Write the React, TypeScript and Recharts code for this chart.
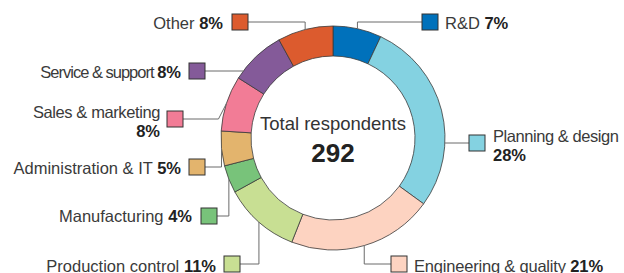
import React from "react";
import { Cell, Pie, PieChart } from "recharts";

const categories = [
  "R&D",
  "Planning & design",
  "Engineering & quality",
  "Production control",
  "Manufacturing",
  "Administration & IT",
  "Sales & marketing",
  "Service & support",
  "Other",
];
const shares = [7, 28, 21, 11, 4, 5, 8, 8, 8];
const colors = [
  "#0071bb",
  "#84d2e1",
  "#fdd3c1",
  "#c8df93",
  "#78c37a",
  "#e3b46d",
  "#f27c96",
  "#845a99",
  "#dc5b2e",
];
const totalRespondents = 292;

const data = categories.map((name, i) => ({ name, value: shares[i] }));

// label placement: box corner, text position, how the leader line runs
type Route = "hv" | "h" | "hd";
interface LabelLayout {
  bx: number;
  by: number;
  side: "left" | "right"; // which side of the box the line leaves from
  tx: number;
  ty: number;
  anchor: "start" | "end";
  route: Route;
  split?: boolean; // percent on second line
  spacing?: number;
}

const layout: LabelLayout[] = [
  { bx: 422, by: 14, side: "left", tx: 445, ty: 29, anchor: "start", route: "hv" },
  { bx: 469, by: 135, side: "left", tx: 493, ty: 142, anchor: "start", route: "h", split: true, spacing: -0.45 },
  { bx: 391, by: 256, side: "left", tx: 414, ty: 272, anchor: "start", route: "hv", spacing: -0.2 },
  { bx: 224, by: 256, side: "right", tx: 216, ty: 272, anchor: "end", route: "hv" },
  { bx: 201, by: 208, side: "right", tx: 192, ty: 222, anchor: "end", route: "hv" },
  { bx: 189, by: 159, side: "right", tx: 181, ty: 174, anchor: "end", route: "hv" },
  { bx: 167, by: 111, side: "right", tx: 160, ty: 118, anchor: "end", route: "hd", split: true, spacing: -0.4 },
  { bx: 189, by: 63, side: "right", tx: 181, ty: 78, anchor: "end", route: "h", spacing: -1 },
  { bx: 232, by: 14, side: "right", tx: 223, ty: 29, anchor: "end", route: "hv" },
];

const BOX = 16;
const RAD = Math.PI / 180;
const font = "'Liberation Sans', Arial, Helvetica, sans-serif";
const FS = 16.5;

function renderLabel(props: any) {
  const { cx, cy, midAngle, outerRadius, index } = props;
  const l = layout[index];
  const color = colors[index];
  const ax = cx + Math.cos(-midAngle * RAD) * outerRadius;
  const ay = cy + Math.sin(-midAngle * RAD) * outerRadius;
  const sx = l.side === "right" ? l.bx + BOX : l.bx;
  const sy = l.by + BOX / 2;

  let points: string;
  if (l.route === "h") {
    const dx = Math.sqrt(Math.max(0, outerRadius * outerRadius - (sy - cy) * (sy - cy)));
    const ex = sx > cx ? cx + dx : cx - dx;
    points = `${sx},${sy} ${ex},${sy}`;
  } else if (l.route === "hd") {
    points = `${sx},${sy} ${ax - 8},${sy} ${ax},${ay}`;
  } else {
    points = `${sx},${sy} ${ax},${sy} ${ax},${ay}`;
  }

  const pct = `${shares[index]}%`;
  return (
    <g key={`lbl-${index}`}>
      <polyline points={points} fill="none" stroke="#6b6b6b" strokeWidth={1} />
      <rect x={l.bx} y={l.by} width={BOX} height={BOX} fill={color} stroke="#333" strokeWidth={1} />
      {l.split ? (
        <text
          fontFamily={font}
          fontSize={FS}
          fill="#3a3a3a"
          textAnchor={l.anchor}
          letterSpacing={l.spacing ?? 0}
        >
          <tspan x={l.tx} y={l.ty}>
            {categories[index]}
          </tspan>
          <tspan x={l.tx} y={l.ty + 19} fontWeight={700} fill="#222" letterSpacing={0}>
            {pct}
          </tspan>
        </text>
      ) : (
        <text
          x={l.tx}
          y={l.ty}
          fontFamily={font}
          fontSize={FS}
          fill="#3a3a3a"
          textAnchor={l.anchor}
          letterSpacing={l.spacing ?? 0}
        >
          {categories[index]}{" "}
          <tspan fontWeight={700} fill="#222" letterSpacing={0}>
            {pct}
          </tspan>
        </text>
      )}
    </g>
  );
}

export default function App() {
  return (
    <div style={{ width: 624, height: 273, background: "#fff" }}>
      <style>{`body{margin:0}`}</style>
      <PieChart width={624} height={273} margin={{ top: 0, right: 0, bottom: 0, left: 0 }}>
        <Pie
          data={data}
          dataKey="value"
          nameKey="name"
          cx={333}
          cy={138}
          innerRadius={82}
          outerRadius={112}
          startAngle={90}
          endAngle={-270}
          stroke="#3a3a3a"
          strokeWidth={0.8}
          label={renderLabel}
          labelLine={false}
          isAnimationActive={false}
        >
          {data.map((d, i) => (
            <Cell key={d.name} fill={colors[i]} />
          ))}
        </Pie>
        <text x={333} y={130} textAnchor="middle" fontFamily={font} fontSize={18.5} fill="#333">
          Total respondents
        </text>
        <text x={333} y={162} textAnchor="middle" fontFamily={font} fontSize={26} fontWeight={700} fill="#222">
          {totalRespondents}
        </text>
      </PieChart>
    </div>
  );
}
